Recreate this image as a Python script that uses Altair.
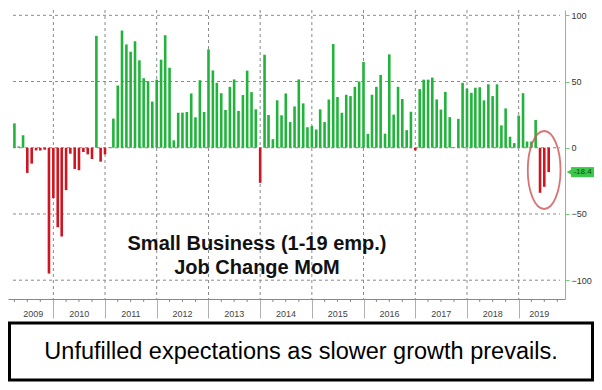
import altair as alt
import pandas as pd

# ---------------- data (monthly job change, small business 1-19 emp.) ----------------
start_month = "2009-04-01"
v2009 = [18.4, 1.0, 9.4, -19.0, -12.0, -2.0, -2.0, -1.5, -95.0]
v2010 = [-38.0, -60.0, -67.0, -32.0, -4.5, -16.0, -17.0, -3.2, -5.0, -8.5, 84.5, -10.5]
v2011 = [-5.0, 0.5, 22.0, 47.0, 88.5, 78.0, 72.5, 80.5, 66.0, 52.5, 50.3, 34.8]
v2012 = [51.4, 66.5, 85.0, 60.4, 5.6, 26.4, 26.5, 27.0, 41.0, 23.0, 51.0, 27.0]
v2013 = [74.3, 58.4, 49.0, 41.2, 28.5, 46.0, 51.6, 27.8, 39.8, 58.2, 42.0, 29.0]
v2014 = [-26.5, 70.3, 24.7, 6.5, 35.8, 24.5, 41.0, 19.4, 31.2, 51.6, 33.5, 15.5]
v2015 = [16.4, 13.8, 29.0, 19.4, 36.4, 78.3, 38.3, 26.4, 40.0, 39.0, 46.0, 50.0]
v2016 = [64.8, 10.5, 40.0, 46.0, 55.0, 10.6, 70.5, 25.0, 46.0, 36.8, 13.3, 27.2]
v2017 = [-2.0, 44.3, 51.4, 51.4, 53.0, 36.5, 28.8, 42.2, 23.1, 0.5, 21.8, 49.0]
v2018 = [44.7, 41.5, 45.3, 45.7, 35.8, 47.9, 39.0, 47.9, 16.9, 29.7, 8.3, 3.5]
v2019 = [24.3, 41.2, 4.7, 4.7, 21.0, -34.0, -29.5, -18.4]

year_labels = ["2009", "2010", "2011", "2012", "2013", "2014",
               "2015", "2016", "2017", "2018", "2019"]
y_ticks = [-100, -50, 0, 50, 100]
title_line1 = "Small Business (1-19 emp.)"
title_line2 = "Job Change MoM"
caption = "Unfufilled expectations as slower growth prevails."

# ---------------- build tables ----------------
values = v2009 + v2010 + v2011 + v2012 + v2013 + v2014 + v2015 + v2016 + v2017 + v2018 + v2019
dates = pd.date_range(start_month, periods=len(values), freq="MS")
df = pd.DataFrame({"date": dates, "value": values})
df["dir"] = ["up" if v >= 0 else "down" for v in values]

dom_start = pd.Timestamp("2009-03-22")
dom_end = pd.Timestamp("2019-10-20")

label_dates = []
for lab in year_labels:
    y = int(lab)
    a = max(pd.Timestamp(f"{y}-01-01"), dom_start)
    b = min(pd.Timestamp(f"{y+1}-01-01"), dom_end)
    label_dates.append(a + (b - a) / 2)
ydf = pd.DataFrame({"date": label_dates, "label": year_labels})

boundaries = [pd.Timestamp(f"{int(l)}-01-01") for l in year_labels[1:]]
bdf = pd.DataFrame({"date": boundaries})

# horizontal grid lines as two-point lines per tick value
grid_rows = []
for v in y_ticks:
    grid_rows.append({"date": dom_start, "v": v})
    grid_rows.append({"date": dom_end, "v": v})
gdf = pd.DataFrame(grid_rows)

qdates = [d for d in pd.date_range("2009-01-01", "2019-12-31", freq="QS")
          if d.month != 1 and dom_start <= d <= dom_end]
qdf = pd.DataFrame({"date": qdates})

tag_df = pd.DataFrame({"value": [values[-1]], "label": [f"{values[-1]:.1f}"]})
circle_df = pd.DataFrame({"date": [pd.Timestamp("2019-06-30")], "value": [-16.8]})
one = pd.DataFrame({"k": [0]})

# ---------------- styling ----------------
W, H = 557, 289
FONT = "Liberation Sans"
GREEN = "#22b33c"
RED = "#cf1520"
TAG = "#3cc84a"
GRID = "#8a8a8a"

def dt(ts):
    return alt.DateTime(year=ts.year, month=ts.month, date=ts.day)

xscale = alt.Scale(domain=[dt(dom_start), dt(dom_end)])
yscale = alt.Scale(domain=[-114.2, 104], nice=False, zero=False)

xaxis = alt.Axis(
    values=[dt(b) for b in boundaries],
    labels=False, title=None, grid=False,
    tickSize=19, tickColor="#b0b0b0", domainColor="#888888", orient="bottom",
)
yaxis = alt.Axis(
    orient="right", values=y_ticks, title=None, grid=False,
    domainColor="#78c878", tickColor="#78c878", tickSize=4,
    labelFontSize=9, labelColor="#333333", labelPadding=2, labelFont=FONT,
)

X = lambda f: alt.X(f, scale=xscale, axis=xaxis)
Y = lambda f: alt.Y(f, scale=yscale, axis=yaxis)

hgrid = alt.Chart(gdf).mark_line(color=GRID, strokeDash=[3, 3], strokeWidth=1).encode(
    x=X("date:T"), y=Y("v:Q"), detail="v:N",
)
vgrid = alt.Chart(bdf).mark_rule(color=GRID, strokeDash=[3, 3], strokeWidth=1).encode(
    x=X("date:T"), y=alt.value(0), y2=alt.value(H),
)

bars = alt.Chart(df).mark_bar(size=2.6).encode(
    x=X("date:T"),
    y=Y("value:Q"),
    color=alt.Color("dir:N", scale=alt.Scale(domain=["up", "down"], range=[GREEN, RED]),
                    legend=None),
)

qticks = alt.Chart(qdf).mark_rule(color="#888888").encode(
    x=X("date:T"),
    y=alt.value(H), y2=alt.value(H + 3),
)

ylabels = alt.Chart(ydf).mark_text(fontSize=9, color="#444444", font=FONT).encode(
    x=X("date:T"),
    y=alt.value(H + 15),
    text="label:N",
)

t1 = alt.Chart(pd.DataFrame({"t": [title_line1]})).mark_text(
    fontSize=20, fontWeight="bold", font=FONT, color="#111111"
).encode(x=alt.value(249), y=alt.value(234), text="t:N")
t2 = alt.Chart(pd.DataFrame({"t": [title_line2]})).mark_text(
    fontSize=20, fontWeight="bold", font=FONT, color="#111111"
).encode(x=alt.value(249), y=alt.value(258), text="t:N")

ELLIPSE = "M -0.42 0 A 0.42 1 0 1 0 0.42 0 A 0.42 1 0 1 0 -0.42 0 Z"
ring = alt.Chart(circle_df).mark_point(
    shape=ELLIPSE, size=6084, filled=False, color="#d25c5c", strokeWidth=1.8, opacity=0.85
).encode(
    x=X("date:T"),
    y=Y("value:Q"),
)

tag_rect = alt.Chart(tag_df).transform_calculate(
    lo="datum.value - 3.8", hi="datum.value + 3.8"
).mark_rect(color=TAG).encode(
    x=alt.value(W + 6), x2=alt.value(W + 29),
    y=Y("lo:Q"), y2="hi:Q",
)
tag_tri = alt.Chart(tag_df).mark_point(shape="triangle-left", filled=True, size=28,
                                       color=TAG, opacity=1).encode(
    x=alt.value(W + 4), y=Y("value:Q"),
)
tag_txt = alt.Chart(tag_df).mark_text(fontSize=8, color="#0e4d12", font=FONT).encode(
    x=alt.value(W + 17.5), y=Y("value:Q"), text="label:N",
)

box = alt.Chart(one).mark_rect(fill="white", stroke="black", strokeWidth=3).encode(
    x=alt.value(1.5), x2=alt.value(W + 27.5), y=alt.value(H + 24), y2=alt.value(H + 81),
)
cap = alt.Chart(pd.DataFrame({"t": [caption]})).mark_text(
    fontSize=23.5, font=FONT, color="#000000"
).encode(x=alt.value((1.5 + W + 27.5) / 2), y=alt.value(H + 53), text="t:N")

chart = alt.layer(
    hgrid, vgrid, bars, qticks, ylabels, t1, t2, ring, tag_rect, tag_tri, tag_txt, box, cap
).properties(
    width=W, height=H,
    autosize=alt.AutoSizeParams(type="none"),
    padding={"left": 0, "top": 2, "right": 29, "bottom": 83},
    background="white",
).configure(font=FONT).configure_view(stroke=None)

chart.save("out.html", embed_options={"renderer": "svg", "actions": False})
